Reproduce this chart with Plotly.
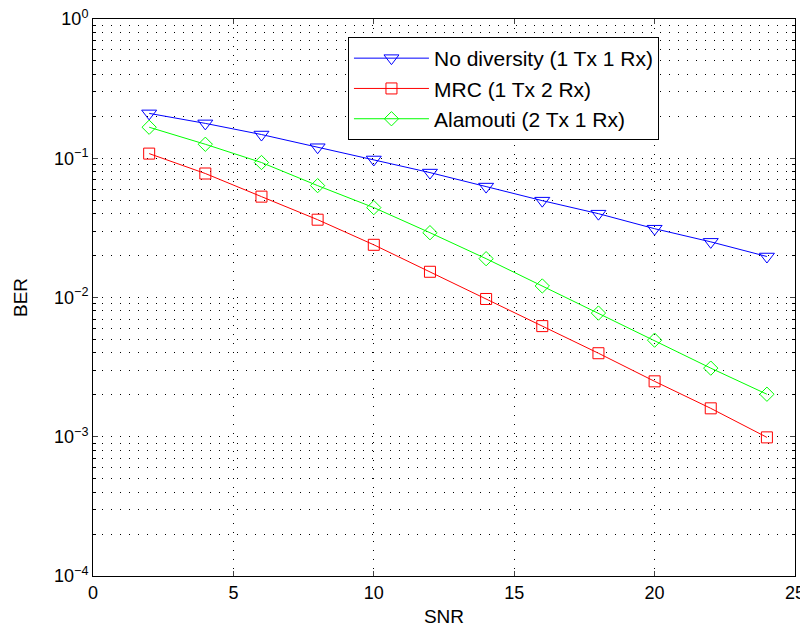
import plotly.graph_objects as go

snr = [2, 4, 6, 8, 10, 12, 14, 16, 18, 20, 22, 24]
ber_none = [0.210, 0.178, 0.148, 0.120, 0.098, 0.0789, 0.0626, 0.0496, 0.0400, 0.0312, 0.0251, 0.0197]
ber_mrc = [0.108, 0.0777, 0.053, 0.0362, 0.0239, 0.0153, 0.00976, 0.00623, 0.00398, 0.0025, 0.0016, 0.00099]
ber_alam = [0.167, 0.126, 0.0932, 0.0636, 0.0442, 0.0292, 0.0190, 0.0121, 0.00773, 0.00494, 0.00311, 0.00202]

names = ["No diversity (1 Tx 1 Rx)", "MRC (1 Tx 2 Rx)", "Alamouti (2 Tx 1 Rx)"]
x_ticks = [0, 5, 10, 15, 20, 25]
y_tickvals = [1e-4, 1e-3, 1e-2, 1e-1, 1]
y_ticktext = ["10<sup>\u22124</sup>", "10<sup>\u22123</sup>", "10<sup>\u22122</sup>", "10<sup>\u22121</sup>", "10<sup>0</sup>"]

FONT = "Liberation Sans, Arial, Helvetica, sans-serif"
fig = go.Figure()
fig.add_trace(go.Scatter(x=snr, y=ber_none, mode="lines+markers", name=names[0],
                         line=dict(color="#0000FF", width=1),
                         marker=dict(symbol="triangle-down-open", size=13, color="#0000FF", line=dict(width=1))))
fig.add_trace(go.Scatter(x=snr, y=ber_mrc, mode="lines+markers", name=names[1],
                         line=dict(color="#FF0000", width=1),
                         marker=dict(symbol="square-open", size=11, color="#FF0000", line=dict(width=1))))
fig.add_trace(go.Scatter(x=snr, y=ber_alam, mode="lines+markers", name=names[2],
                         line=dict(color="#00FF00", width=1),
                         marker=dict(symbol="diamond-open", size=11, color="#00FF00", line=dict(width=1))))

grid_dash = "1px,8px"
# page body has an 8px default margin, so figure is 800x625 placed at (8, 8)
fig.update_layout(
    width=800, height=625,
    margin=dict(l=85, r=13, t=11, b=57, autoexpand=False),
    paper_bgcolor="white", plot_bgcolor="white",
    font=dict(family=FONT, size=18, color="black"),
    showlegend=True,
    legend=dict(x=0.3632, y=0.9677, xanchor="left", yanchor="top",
                bgcolor="white", bordercolor="black", borderwidth=1,
                font=dict(size=21), tracegroupgap=0, itemwidth=75),
    xaxis=dict(range=[0, 25], tickvals=x_ticks, ticks="inside", ticklen=5,
               showline=True, linecolor="black", linewidth=1, mirror="allticks",
               showgrid=True, gridcolor="black", gridwidth=1, griddash=grid_dash,
               zeroline=False, automargin=False, ticklabeloverflow="allow",
               title=dict(text="SNR", standoff=8, font=dict(size=19)),
               tickfont=dict(size=18)),
    yaxis=dict(type="log", range=[-4, 0], tickvals=y_tickvals, ticktext=y_ticktext,
               ticks="inside", ticklen=5,
               showline=True, linecolor="black", linewidth=1, mirror="allticks",
               showgrid=True, gridcolor="black", gridwidth=1, griddash=grid_dash,
               zeroline=False, automargin=False, ticklabeloverflow="allow",
               title=dict(text="BER", standoff=21, font=dict(size=19)),
               tickfont=dict(size=18),
               minor=dict(dtick="D1", ticks="inside", ticklen=3, tickcolor="black",
                          showgrid=True, gridcolor="black", gridwidth=1, griddash=grid_dash)),
)
fig.write_html("out.html")
